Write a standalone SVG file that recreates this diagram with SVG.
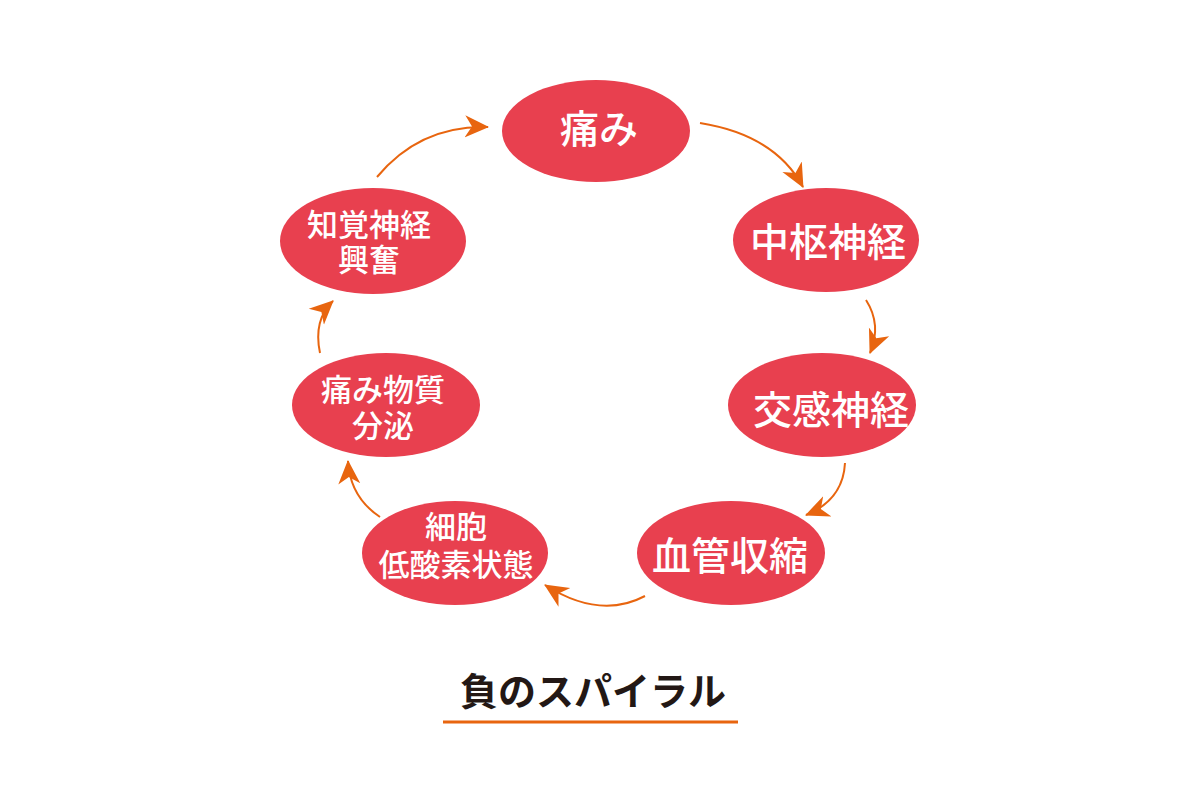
<svg xmlns="http://www.w3.org/2000/svg" width="1200" height="800" viewBox="0 0 1200 800">
<defs>
<style>
.node ellipse{fill:#E8404F;}
.node text{fill:#FFFFFF;font-family:"Noto Sans CJK JP","Noto Sans CJK SC",sans-serif;font-weight:500;text-anchor:middle;}
.big{font-size:39px;}
.small{font-size:31px;}
.conn path{fill:none;stroke:#E8650F;stroke-width:2;marker-end:url(#ah);}
.title{fill:#231815;font-family:"Noto Sans CJK JP","Noto Sans CJK SC",sans-serif;font-weight:700;font-size:38px;text-anchor:middle;}
</style>
<marker id="ah" viewBox="0 0 24 24" refX="23" refY="12" markerWidth="24" markerHeight="24" markerUnits="userSpaceOnUse" orient="auto">
<path d="M0,1 L24,12 L0,23 L7,12 Z" fill="#E8650F"/>
</marker>
</defs>
<rect width="1200" height="800" fill="#FFFFFF"/>
<g id="connectors" class="conn">
<path d="M700,123 Q775,135 803,187"/>
<path d="M866,300 Q882,325 870,353"/>
<path d="M845,463 Q843,500 806,515"/>
<path d="M645,596 Q600,620 545,585"/>
<path d="M380,517 Q350,497 348,461"/>
<path d="M320,353 Q313,320 333,301"/>
<path d="M377,177 Q420,125 488,127"/>
</g>
<g id="node-itami" class="node">
<ellipse cx="596" cy="131" rx="94" ry="51"/>
<text class="big" x="599" y="143">痛み</text>
</g>
<g id="node-chusu" class="node">
<ellipse cx="826" cy="240" rx="93" ry="52"/>
<text class="big" x="828" y="256">中枢神経</text>
</g>
<g id="node-kokan" class="node">
<ellipse cx="822" cy="405" rx="94" ry="52"/>
<text class="big" x="831" y="424">交感神経</text>
</g>
<g id="node-kekkan" class="node">
<ellipse cx="731" cy="553" rx="94" ry="52"/>
<text class="big" x="730" y="570">血管収縮</text>
</g>
<g id="node-saibo" class="node">
<ellipse cx="455" cy="553" rx="93" ry="52"/>
<text class="small" x="456" y="538">細胞</text>
<text class="small" x="456" y="576">低酸素状態</text>
</g>
<g id="node-busshitsu" class="node">
<ellipse cx="386" cy="405" rx="94" ry="52"/>
<text class="small" x="383" y="401">痛み物質</text>
<text class="small" x="383" y="437">分泌</text>
</g>
<g id="node-chikaku" class="node">
<ellipse cx="373" cy="241" rx="93" ry="53"/>
<text class="small" x="369" y="236">知覚神経</text>
<text class="small" x="369" y="271">興奮</text>
</g>
<g id="title">
<text class="title" x="593" y="705">負のスパイラル</text>
<line x1="443" y1="722" x2="738" y2="722" stroke="#E8650F" stroke-width="3"/>
</g>
</svg>
